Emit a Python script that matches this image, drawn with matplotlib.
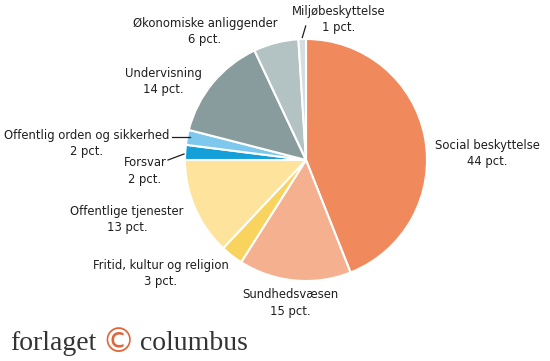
import matplotlib.pyplot as plt

# Data
labels = ["Social beskyttelse", "Sundhedsvæsen", "Fritid, kultur og religion",
          "Offentlige tjenester", "Forsvar", "Offentlig orden og sikkerhed",
          "Undervisning", "Økonomiske anliggender", "Miljøbeskyttelse"]
values = [44, 15, 3, 13, 2, 2, 14, 6, 1]
colors = ["#F08A5D", "#F5B08F", "#F8D35E", "#FEE39D", "#139FD8",
          "#7DC8EC", "#889C9D", "#B3C2C3", "#D5DDDF"]

W, H = 550, 361
fig = plt.figure(figsize=(5.5, 3.61), dpi=100)
ax = fig.add_axes([0, 0, 1, 1])

ax.pie(values, colors=colors, startangle=90, counterclock=False,
       center=(306, H - 160), radius=121,
       wedgeprops=dict(edgecolor="white", linewidth=1.5))
ax.set_xlim(0, W)
ax.set_ylim(0, H)
ax.set_aspect("equal")
ax.axis("off")

txt = "#1e1e1e"

# label positions in pixel coords (x, y from top)
pos = [(487, 153), (290, 303), (161, 273), (127, 220), (145, 171),
       (87, 144), (163, 81), (205, 31), (339, 20)]
for lab, v, (x, y) in zip(labels, values, pos):
    ax.text(x, H - y, f"{lab}\n{v} pct.", ha="center", va="center",
            fontsize=9.3, family="DejaVu Sans", fontstretch="condensed",
            color=txt, linespacing=1.3)

# leader lines
leaders = [((305.7, 26), (302.3, 37.5)),
           ((172, 137), (190, 137)),
           ((168, 160), (184, 154))]
for (x0, y0), (x1, y1) in leaders:
    ax.plot([x0, x1], [H - y0, H - y1], color=txt, lw=0.9)

# logo
ax.text(10, H - 343, "forlaget", fontsize=20, family="Liberation Serif",
        color="#333333", va="center", ha="left")
ax.text(118, H - 343, "©", fontsize=24, family="DejaVu Sans",
        color="#E0663A", va="center", ha="center")
ax.text(140, H - 343, "columbus", fontsize=20, family="Liberation Serif",
        color="#333333", va="center", ha="left")

fig.savefig("out.png", dpi=100)
